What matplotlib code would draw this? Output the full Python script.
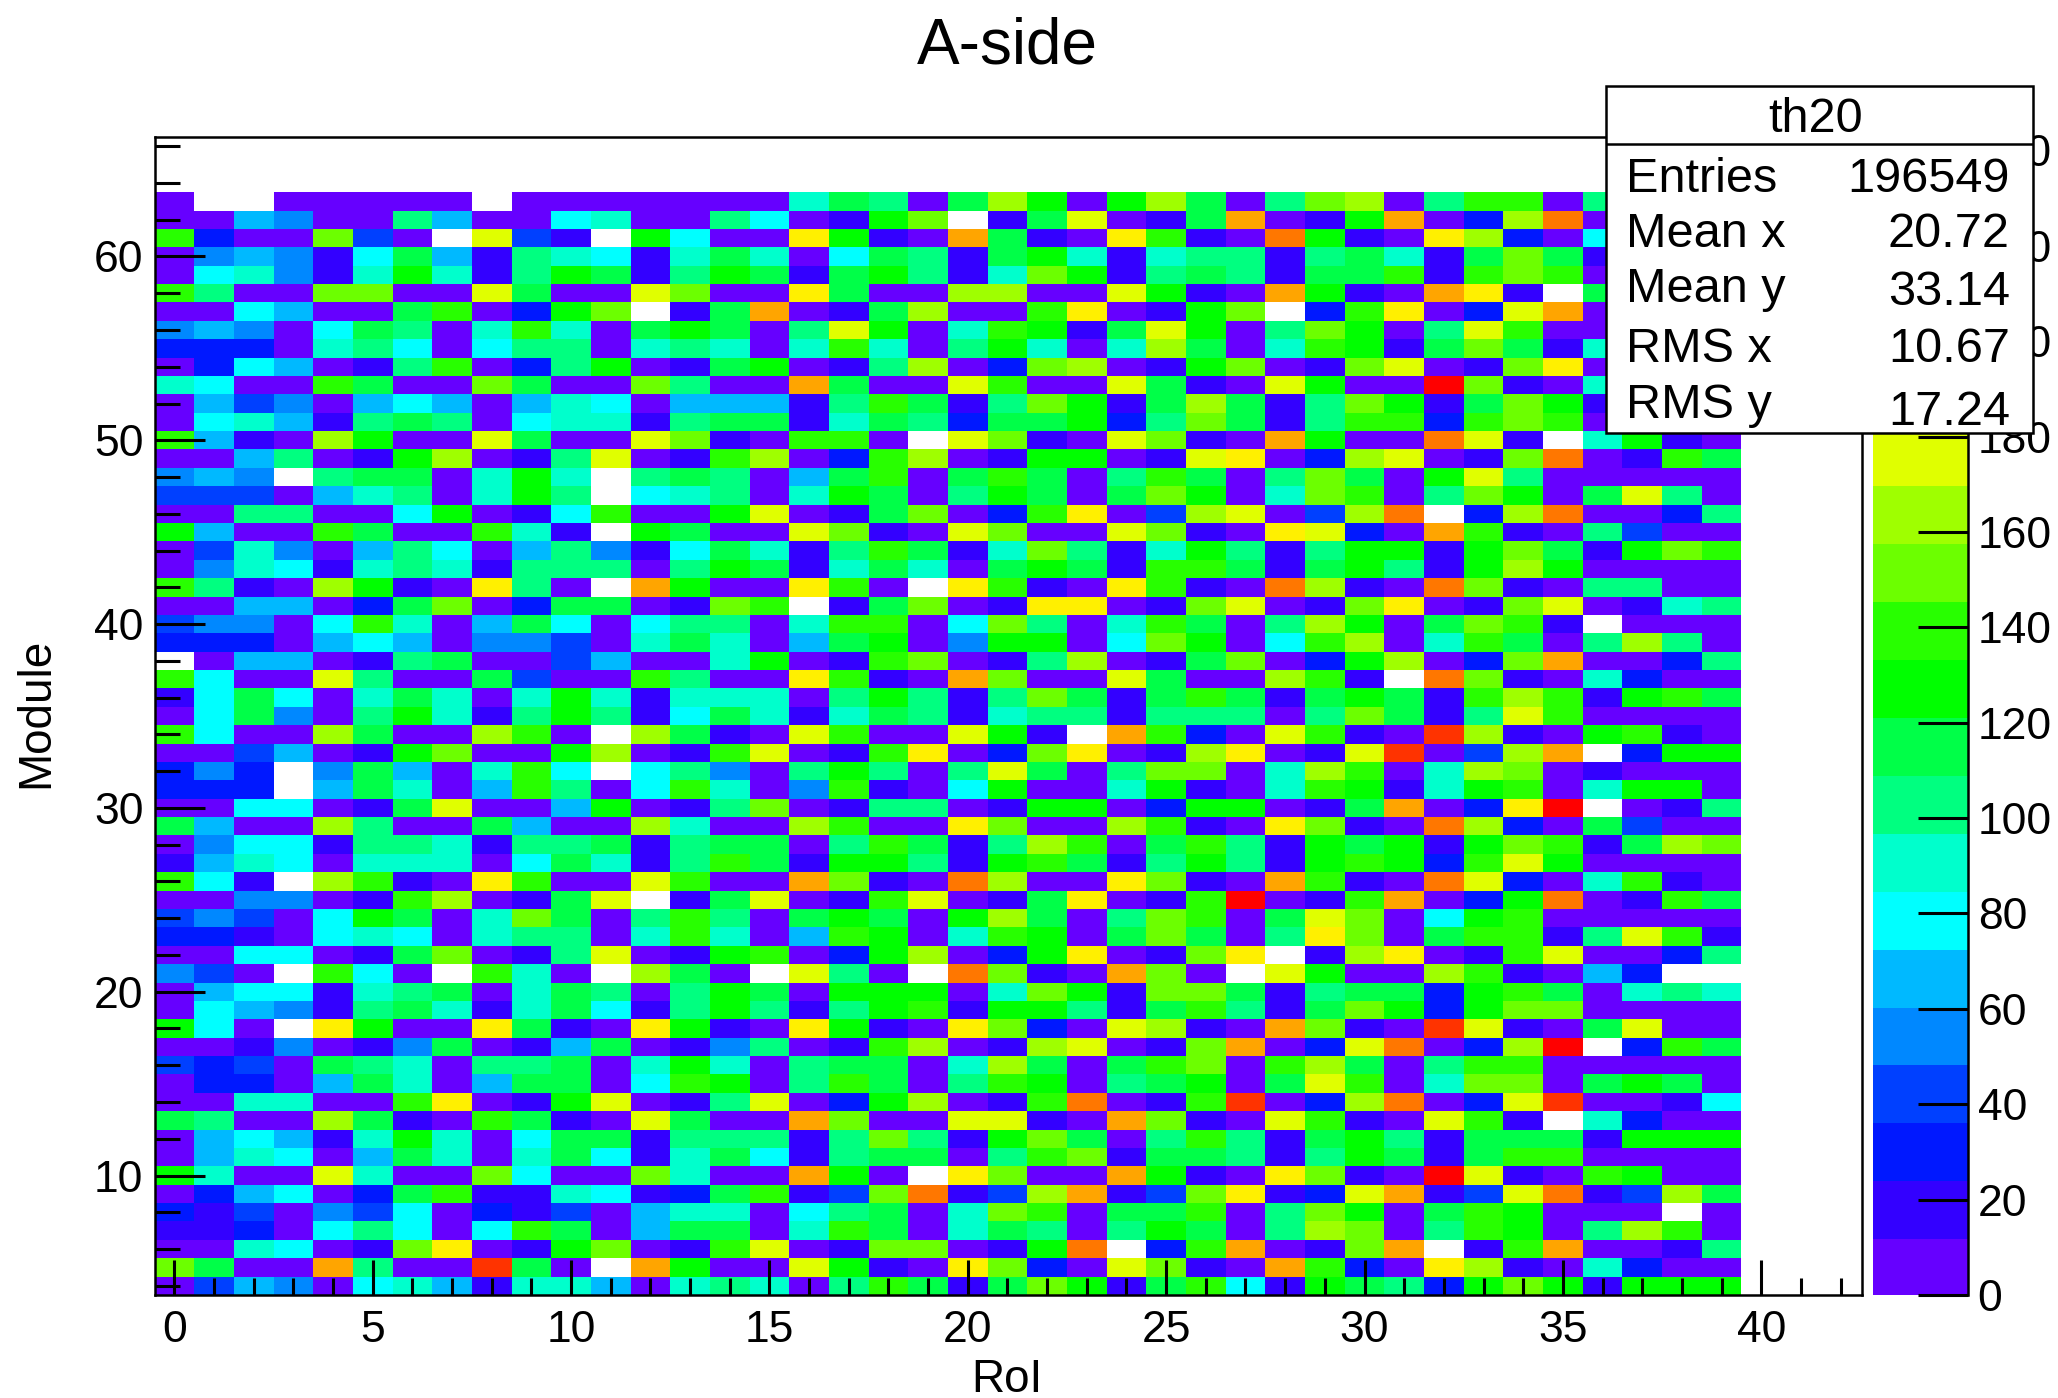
import numpy as np
import matplotlib
matplotlib.use("Agg")
import matplotlib.pyplot as plt
from matplotlib.colors import ListedColormap, BoundaryNorm
from matplotlib.patches import Rectangle
from matplotlib.ticker import MultipleLocator

plt.rcParams['font.family'] = ['Liberation Sans', 'DejaVu Sans']

TITLE = "A-side"
XLABEL = "RoI"
YLABEL = "Module"
STATS_NAME = "th20"
STATS_LABELS = ["Entries", "Mean x", "Mean y", "RMS x", "RMS y"]
STATS_VALUES = ["196549", "20.72", "33.14", "10.67", "17.24"]

# Palette of the 20 contour levels, lowest first
LEVEL_COLORS = ["#6600ff", "#3300ff", "#0018ff", "#0040ff", "#0088ff", "#00b9ff",
                "#00ffff", "#00ffcc", "#00ff80", "#00ff48", "#00ff00", "#28ff00",
                "#6cff00", "#9fff00", "#e0ff00", "#fff000", "#ffa500", "#ff7700",
                "#ff3300", "#ff0000"]
LEVEL_CODES = "VBURASCTMGKLNYEOPQHX"
LEVEL_WIDTH = 12.14
N_LEVELS = 20
OVERFLOW_VALUE = 250.0

MODULES_TOP = 63
# One string per module, top row first; one letter per RoI.
# W = above the scale (white), . = empty or hidden behind the stats box
ROWS = [
    "V..VVVVV.VVVV" "VVVTGMVGYKVKY" "GVMNYVMLLVM...",
    "VVSAVVMSVVCTV" "VMCVBKNWBGEVB" "GPVBKPVUYQV...",
    "LUVVNRVWERBWK" "CVVOKBVPGBVOL" "BVQKBVOYUVC...",
    "VASABCGSBMTCB" "TGTVCGMBGKTBT" "MMBMGTBGNGB...",
    "VCTABTKTBMKGB" "MKGBGKMBTNKBM" "GMBGGLBLNLV...",
    "LMVVNNVVEGVVE" "NVVOGVVYYVVEK" "BVPKBVPOBWG...",
    "VVCSVVGLVUKNW" "BGPVBGYVVLOVB" "KNWULOVUEPV...",
    "ASAVCGMVTLTVG" "KGVMEKVTLKBGE" "KVMNKVMELVV...",
    "UUUVTMCVCMMVT" "MTVTLTVMKTVTY" "GVTLKBGNGBT...",
    "VUCSVBMLVUMKV" "BGKVBMYVUNYVB" "KNVBNEVBNOV...",
    "TCVVLGVVNGVVN" "MVVPGVVELVVEG" "BVEKVVXNBVT...",
    "VSRAVSCSVSTCV" "SSSBMLGBMNKBG" "YGBMNKBGNKB...",
    "VCTSBMGMVCTTB" "MGGBTGMUGGKUM" "NGBMLLULNLV...",
    "LSBVYKVVEGVVE" "NBVLLVWENBVEN" "BVPKVVQEBWTKBV",
    "VVSMVBKYVBMEV" "BLYVULYVBKKVB" "EOVUYEVBNQVBLG",
    "ASAWMGGVTKTWM" "GMVSGLVGLGVML" "GVMNGVKEMVVVVV",
    "RRRVSTMVTKMWC" "TMVTKGVMKGVGN" "KVTNLVMNKVGEMV",
    "VVMMVVCKVBCLV" "VKEVBGNVULOVR" "YEVRYQWUYQVVUM",
    "KSVVLGVVLTBWK" "GVVENBVENVVEN" "BVOEUVPLBVMRVV",
    "VRTAVSMCVSMAB" "CGTBMLGBTNMBT" "KMBMKKBKNGBKNL",
    "VATCBTMTBMMMV" "MKGBTGTVGKGBL" "LGBGKMBKYKVVVV",
    "LMBVYKBVOMVWP" "KVVOLVWOLBVOL" "BVQYBVQNBVMMVV",
    "VVSSVUGNVUGGV" "BNLWBGNVBOOVB" "NEVBNOVBNEVBTM",
    "RAAVCLTVSGCVC" "MMVTLLVCNMVTL" "GVMYKVGNLBWVVV",
    "UUUVSCSVAARVT" "GTVSGKVAKKVCN" "KVCLYVTLGVMYMV",
    "WVSSVBMGVVRSV" "VTKVBLNVBMYVB" "GNVUKYVUNPVVUM",
    "LCVVEMVVGRVVL" "MVVOLBVPNVVEG" "VVYLBWQNBVTUVV",
    "BCGCVTGTVTKTB" "TTTVMKMBMNGBG" "LGBGKGBLYLBKLG",
    "VCGAVMKTBMKMB" "CGTBTGMBTMMBM" "MMVMNGBMELVVVV",
    "LCVVYGVVYLVWY" "GBVELVVEKBWPL" "UVELBVHYBVKLBV",
    "VVRSVBKNVVKYV" "BLEVBLOVUNOVB" "YOVBEHVRYPWUKK",
    "UAUWAGSVTLCWC" "MAVMKMVMEGVMN" "NVTYLVTYNVBVVV",
    "UUUWSGTVSLMVC" "LTVALBVCKVVTK" "BVTLKBTKLVTKKV",
    "VVCCVBGEVVSKV" "BMNVBMMVBKKVU" "KKVBGPVUOXWVBM",
    "GSVVYMVVGSVVY" "TVVYLVVONVVYL" "BVONBVQYUVGRVV",
    "VACCBMMTBMMGB" "MGGVMLGBMYLVG" "LMBKGKBKNLBGYN",
    "BSTCVTTTVCGTB" "MLGBKKMBKLGBM" "KMBKLKULEKVVVV",
    "LCBWYLBVOLVVE" "LVVPNBVQYVVON" "BVPLBVQEUVTLBV",
    "VVAAVBLYVBGEW" "BGEVBLEVBGOVB" "LXVBLPVUKQVBLG",
    "RARVCKGVTNGVM" "LMVGKGVKYGVMN" "LVGENVCKLVVVVV",
    "UUBVCTCVTMMVT" "LTVSLKVTLKVGN" "GVMONVGLLBMELB",
    "VVCCVBGNVBMEV" "BKLVUKYVUKOVB" "NOWBYOVBLEVVUM",
    "ARVWLCVWLTVWY" "GVWEMVWQNBVPN" "VWEKVVYLBVSUWW",
    "VSCCBTMGVTGMV" "MKGVKKKVTNKBN" "NGBMGGUKLGVTMT",
    "VCSABMGTBTGCB" "MKMBMKLBKKMBG" "LMBGNKUKNNVVVV",
    "KCVWOKVVOGBVO" "KBVOKBVONUVEY" "BVPNBVHEBVGEVV",
    "VVBAVBAGVBSGV" "BAMVBLYVBYEVB" "NPVUEQVUYXWULG",
    "RURVGMTVMMGVT" "KTVMGGVTYGVGL" "NVLYGVMLLVVVVV",
    "VUUVSGTVSGGVC" "LKVMLGVMLKVMG" "KVGELVTNNVGKGV",
    "VVTTVVLOVBKEV" "BMEVUKYVBLQVB" "LHVUYQVUEHVVBC",
    "GMVVYGBVLGBVE" "GVVPNVVEEBVPN" "BVELBVELBWTUVV",
    "VSCSBTKTVCGGB" "MMMBMNMBKNGVM" "LMBGKMBGGGBKKK",
    "VSTCVSGTVTGCB" "TGCBMGGVMLNBG" "GMBMKGBGLLVVVV",
    "KTVVETVVNCVVN" "TVVPKVWONVVPK" "BVONBVXEBVLKVV",
    "VUSCVUGLBBTCB" "UGLBRNQBRYPBR" "NOBUEPBREQBRYG",
    "UBRVARCVUBRVS" "TTVCMGVTNLVGG" "LVMNKVGLKVVVWV",
    "BBUVCMCVCLGVS" "GGVTLGVTGMVMK" "GVMYNVMLKVMYLV",
    "VVTCVBNOVBKNV" "BLEVBNNVBKQWU" "LPVBNPWBLPVVBM",
    "NGVVPMVVHGVWP" "KVVEKBVONUVEN" "BVPLUVOYBVTUVV",
    "VRSAVCTSBTTSV" "TMTVMLGBGNKBG" "LCBKGMUKNKBKKK",
]


def decode(ch):
    if ch == '.':
        return np.nan
    if ch == 'W':
        return OVERFLOW_VALUE
    return (LEVEL_CODES.index(ch) + 0.5) * LEVEL_WIDTH


Z = np.array([[decode(c) for c in row] for row in ROWS])
ys = np.array([MODULES_TOP - i for i in range(len(ROWS))])
xs = np.arange(Z.shape[1])

W, H = 2058, 1398
fig = plt.figure(figsize=(W / 100, H / 100), dpi=100, facecolor='white')


def px_axes(left, top, right, bottom, **kw):
    return fig.add_axes([left / W, 1 - bottom / H, (right - left) / W, (bottom - top) / H], **kw)


bounds = LEVEL_WIDTH * np.arange(N_LEVELS + 1)
cmap = ListedColormap(LEVEL_COLORS)
cmap.set_over('white')
cmap.set_bad('white')
norm = BoundaryNorm(bounds, cmap.N, extend='neither', clip=False)

ax = px_axes(154.5, 137, 1862, 1295)
mesh = ax.pcolormesh(xs, ys, Z, cmap=cmap, norm=norm, shading='nearest', antialiased=False)
ax.set_xlim(-0.5, 42.54)
ax.set_ylim(3.5, 66.5)

ax.xaxis.set_major_locator(MultipleLocator(5))
ax.xaxis.set_minor_locator(MultipleLocator(1))
ax.yaxis.set_major_locator(MultipleLocator(10))
ax.yaxis.set_minor_locator(MultipleLocator(2))
ax.tick_params(axis='x', which='major', direction='in', length=25, width=2.2, labelsize=32, pad=11)
ax.tick_params(axis='x', which='minor', direction='in', length=12.5, width=2.2)
ax.tick_params(axis='y', which='major', direction='in', length=36, width=2.2, labelsize=32, pad=8)
ax.tick_params(axis='y', which='minor', direction='in', length=18, width=2.2)
for s in ax.spines.values():
    s.set_linewidth(1.8)
ax.set_axisbelow(False)

# Colour scale
cax = px_axes(1872.7, 137, 1968, 1295)
cb = fig.colorbar(mesh, cax=cax, spacing='proportional', extend='neither', drawedges=False)
cb.set_ticks(np.arange(0, 241, 20))
cb.minorticks_off()
cb.solids.set_antialiased(False)
cb.solids.set_edgecolor('face')
cax.tick_params(axis='y', direction='in', length=36, width=2.2, labelsize=32, pad=7)
cb.outline.set_visible(False)
cax.spines['right'].set_visible(True)
cax.spines['right'].set_linewidth(1.8)
cax.set_ylim(0, LEVEL_WIDTH * N_LEVELS)

# Overlay in pixel coordinates: texts and stats box
ov = px_axes(0, 0, W, H, zorder=10)
ov.set_xlim(0, W)
ov.set_ylim(H, 0)
ov.axis('off')
ov.patch.set_alpha(0)

ov.text(1007, 46, TITLE, ha='center', va='center', fontsize=46)
ov.text(1007, 1380, XLABEL, ha='center', va='center', fontsize=33)
ov.text(36, 713, YLABEL, ha='center', va='center', rotation=90, fontsize=33)

ov.add_patch(Rectangle((1606, 86), 427, 347, facecolor='white', edgecolor='black', linewidth=1.8))
ov.plot([1606, 2033], [144, 144], color='black', lw=1.8, solid_capstyle='butt')
ov.text(1816, 119, STATS_NAME, ha='center', va='center', fontsize=35)
label_base = [192, 247, 302, 362, 418]
value_base = [192, 247, 305, 362, 425]
for lab, val, yl, yv in zip(STATS_LABELS, STATS_VALUES, label_base, value_base):
    ov.text(1626, yl, lab, ha='left', va='baseline', fontsize=35)
    ov.text(2010, yv, val, ha='right', va='baseline', fontsize=35)

fig.savefig('out.png', dpi=100, facecolor='white')
